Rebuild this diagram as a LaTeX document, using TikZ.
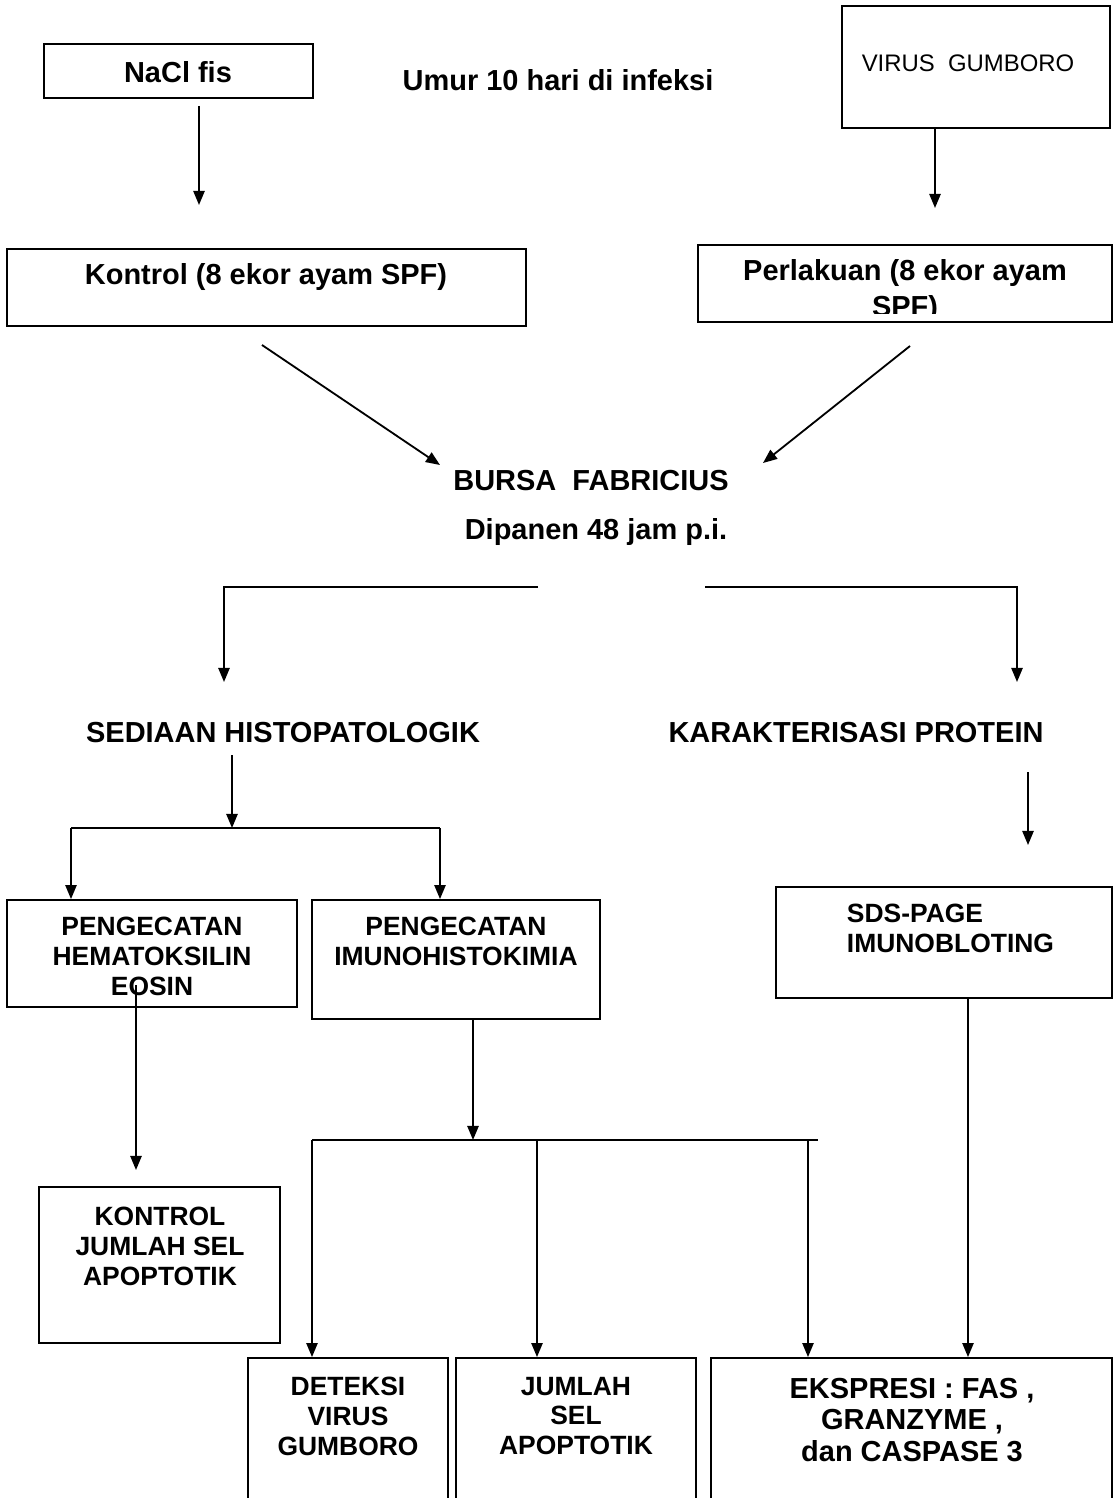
\documentclass[tikz,border=0pt]{standalone}
\usepackage{fontspec}
\setmainfont{Liberation Sans}
\usetikzlibrary{arrows.meta, positioning}

\begin{document}
\begin{tikzpicture}[x=0.025cm, y=-0.025cm, line width=1.3pt,
    box/.style={draw, line width=1.3pt, inner sep=0pt},
    lbl/.style={font=\bfseries\fontsize{20.6}{23}\selectfont, align=center, inner sep=0pt},
    boxtxt/.style={font=\bfseries\fontsize{18.8}{21.3}\selectfont, align=center, inner sep=0pt},
    arr/.style={-{Triangle[length=10pt, width=8pt]}}]
    \useasboundingbox (0,0) rectangle (1114,1498);

    % Perlakuan awal
    \node[box, minimum width=6.725cm, minimum height=1.35cm] (nacl) at (178.5,71) {};
    \node[lbl] (nacltxt) at (178,72) {NaCl fis};
    \node[lbl] (umur) at (558,80) {Umur 10 hari di infeksi};
    \node[box, minimum width=6.7cm, minimum height=3.05cm] (virus) at (976,67) {};
    \node[font=\fontsize{17}{20}\selectfont, inner sep=0pt] (virustxt) at (968,63) {VIRUS\ \ GUMBORO};

    \draw[arr] (199,106) -- (199,205);
    \draw[arr] (virus.south -| 935,0) -- (935,208);

    % Kelompok ayam
    \node[box, minimum width=12.975cm, minimum height=1.925cm] (kontrol) at (266.5,287.5) {};
    \node[lbl] (kontroltxt) at (266,277) {Kontrol (8 ekor ayam SPF)};
    \node[box, minimum width=10.35cm, minimum height=1.925cm] (perlakuan) at (905,283.5) {};
    \begin{scope}
        \clip (698,245) rectangle (1112,313);
        \node[lbl, font=\bfseries\fontsize{20.6}{25.5}\selectfont] (perlakuantxt) at (905,291) {Perlakuan (8 ekor ayam\\SPF)};
    \end{scope}

    % Bursa
    \node[lbl] (bursa) at (591,481) {BURSA\ \ FABRICIUS};
    \node[lbl] (panen) at (596,532) {Dipanen 48 jam p.i.};
    \coordinate (k1) at (262,345);
    \coordinate (k2) at (440,465);
    \coordinate (p1) at (910,346);
    \coordinate (p2) at (763,463);
    \draw[arr] (k1) -- (k2);
    \draw[arr] (p1) -- (p2);

    % Percabangan
    \coordinate (bl) at (538,587);
    \coordinate (br) at (705,587);
    \draw[arr] (bl) -- (224,587) -- (224,682);
    \draw[arr] (br) -- (1017,587) -- (1017,682);
    \node[lbl] (histo) at (283,733) {SEDIAAN HISTOPATOLOGIK};
    \node[lbl] (protein) at (856,733) {KARAKTERISASI PROTEIN};

    % Histopatologi
    \coordinate (h1) at (232,755);
    \coordinate (h2) at (232,828);
    \draw[arr] (h1) -- (h2);
    \node[box, minimum width=7.25cm, minimum height=2.675cm] (he) at (152,953.5) {};
    \node[boxtxt] (hetxt) at (152,956) {PENGECATAN\\HEMATOKSILIN\\EOSIN};
    \node[box, minimum width=7.2cm, minimum height=2.975cm] (ihk) at (456,959.5) {};
    \node[boxtxt] (ihktxt) at (456,941) {PENGECATAN\\IMUNOHISTOKIMIA};
    \draw (71,828) -- (440,828);
    \draw[arr] (71,828) -- (71,828 |- he.north);
    \draw[arr] (440,828) -- (440,828 |- ihk.north);

    % Protein
    \draw[arr] (1028,772) -- (1028,845);
    \node[box, minimum width=8.4cm, minimum height=2.775cm] (sds) at (944,942.5) {};
    \node[boxtxt, align=left, anchor=west] (sdstxt) at (846,928) {SDS-PAGE\\IMUNOBLOTING};

    % Hasil HE
    \coordinate (eosin) at (136,985);
    \node[box, minimum width=6.025cm, minimum height=3.9cm] (apokontrol) at (159.5,1265) {};
    \node[boxtxt] (apokontroltxt) at (160,1246) {KONTROL\\JUMLAH SEL\\APOPTOTIK};
    \draw[arr] (eosin) -- (136,1170);

    % Hasil IHK dan imunobloting
    \node[box, minimum width=5cm, minimum height=4.05cm] (deteksi) at (348,1439) {};
    \node[boxtxt] (deteksitxt) at (348,1416) {DETEKSI\\VIRUS\\GUMBORO};
    \node[box, minimum width=6cm, minimum height=4.05cm] (jumlah) at (576,1439) {};
    \node[boxtxt] (jumlahtxt) at (576,1416) {JUMLAH\\SEL\\APOPTOTIK};
    \node[box, minimum width=10.025cm, minimum height=4.05cm] (ekspresi) at (911.5,1439) {};
    \node[lbl, font=\bfseries\fontsize{20.6}{22.7}\selectfont] (ekspresitxt) at (912,1420) {EKSPRESI : FAS ,\\GRANZYME ,\\dan CASPASE 3};

    \draw[arr] (473,0 |- ihk.south) -- (473,1140);
    \draw (312,1140) -- (818,1140);
    \draw[arr] (312,1140) -- (312,1140 |- deteksi.north);
    \draw[arr] (537,1140) -- (537,1140 |- jumlah.north);
    \draw[arr] (808,1140) -- (808,1140 |- ekspresi.north);
    \draw[arr] (968,0 |- sds.south) -- (968,0 |- ekspresi.north);
\end{tikzpicture}
\end{document}
